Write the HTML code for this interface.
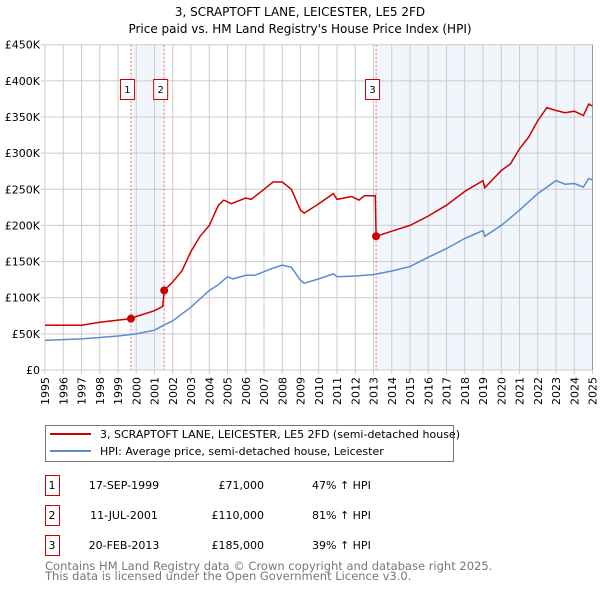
<!DOCTYPE html>
<html><head><meta charset="utf-8"><style>
body{margin:0;background:#fff;width:600px;height:590px;overflow:hidden;font-family:"DejaVu Sans","Liberation Sans",sans-serif}
svg text{font-family:"DejaVu Sans","Liberation Sans",sans-serif}
</style></head><body>
<svg id="chart" width="600" height="590" xmlns="http://www.w3.org/2000/svg">
<text x="300" y="16" text-anchor="middle" font-size="12">3, SCRAPTOFT LANE, LEICESTER, LE5 2FD</text>
<text x="300" y="33" text-anchor="middle" font-size="12">Price paid vs. HM Land Registry's House Price Index (HPI)</text>
<g id="plot"></g>
<g>
<rect x="45.5" y="425.5" width="408" height="36" fill="#fff" stroke="#777"/>
<line x1="50" y1="434" x2="91" y2="434" stroke="#cc0000" stroke-width="2"/>
<text x="100" y="438" font-size="11">3, SCRAPTOFT LANE, LEICESTER, LE5 2FD (semi-detached house)</text>
<line x1="50" y1="451" x2="91" y2="451" stroke="#5b8ccf" stroke-width="2"/>
<text x="100" y="455" font-size="11">HPI: Average price, semi-detached house, Leicester</text>
</g>
<g id="table"></g>
<text x="45" y="570" font-size="11.5" fill="#777">Contains HM Land Registry data © Crown copyright and database right 2025.</text>
<text x="45" y="580" font-size="11.5" fill="#777">This data is licensed under the Open Government Licence v3.0.</text>
</svg>
<script>
const hpiYears=[1995,1996,1997,1998,1999,2000,2001,2001.5,2002,2003,2004,2004.5,2005,2005.3,2006,2006.5,2007,2007.5,2008,2008.5,2009,2009.2,2010,2010.8,2011,2012,2013,2014,2015,2016,2017,2018,2019,2019.1,2020,2021,2022,2023,2023.5,2024,2024.5,2024.8,2025];
const hpiValues=[41,42,43,45,47,50,55,62,68,87,110,118,129,126,131,131,136,141,145,142,124,120,126,133,129,130,132,137,143,156,168,182,193,185,200,221,244,262,257,258,253,265,263];
const redYears=[1995,1996,1997,1998,1999,1999.71,2000,2001,2001.45,2001.53,2002,2002.5,2003,2003.5,2004,2004.5,2004.8,2005.2,2006,2006.3,2007,2007.5,2008,2008.5,2009,2009.2,2010,2010.8,2011,2011.8,2012.2,2012.5,2013.1,2013.14,2014,2015,2016,2017,2018,2019,2019.1,2020,2020.5,2021,2021.5,2022,2022.5,2023,2023.5,2024,2024.5,2024.8,2025];
const redValues=[62,62,62,66,69,71,74,82,88,110,122,137,164,185,200,228,235,230,238,236,250,260,260,250,221,217,230,244,236,240,235,241,241,185,192,200,213,228,247,262,252,276,285,306,322,345,363,359,356,358,352,368,365];
const saleYears=[1999.71,2001.53,2013.14];
const saleValues=[71,110,185];
const saleLabels=["1","2","3"];
const saleDates=["17-SEP-1999","11-JUL-2001","20-FEB-2013"];
const salePrices=["£71,000","£110,000","£185,000"];
const salePct=["47% ↑ HPI","81% ↑ HPI","39% ↑ HPI"];
const yTicks=[0,50,100,150,200,250,300,350,400,450];
const yTickLabels=["£0","£50K","£100K","£150K","£200K","£250K","£300K","£350K","£400K","£450K"];
const xTicks=[];for(let y=1995;y<=2025;y++)xTicks.push(y);

const NS="http://www.w3.org/2000/svg";
const X0=45,X1=592.5,Y0=370,Y1=44.7;
const xs=y=>X0+(y-1995)/30*(X1-X0);
const ys=v=>Y0-v/450*(Y0-Y1);
const plot=document.getElementById('plot');
function mk(tag,attrs,parent){const e=document.createElementNS(NS,tag);for(const k in attrs)e.setAttribute(k,attrs[k]);(parent||plot).appendChild(e);return e;}

let r=mk('rect',{x:X0,y:Y1,width:X1-X0,height:Y0-Y1,fill:'#fff'});


r=mk('rect',{x:xs(saleYears[0]),y:Y1,width:xs(saleYears[1])-xs(saleYears[0]),height:Y0-Y1,fill:'#eef2fb',opacity:0.8});


r=mk('rect',{x:xs(saleYears[2]),y:Y1,width:X1-xs(saleYears[2]),height:Y0-Y1,fill:'#eef2fb',opacity:0.8});



xTicks.forEach(t=>{
  const l=mk('line',{x1:xs(t),x2:xs(t),y1:Y1,y2:Y0+4,stroke:'#ccc'});
  
  
  const tx=mk('text',{x:0,y:0,'font-size':11,'text-anchor':'end',transform:`translate(${xs(t)+4},${Y0+7}) rotate(-90)`});
  tx.textContent=t;
  
  
});
yTicks.forEach((t,i)=>{
  const l=mk('line',{x1:X0-4,x2:X1,y1:ys(t),y2:ys(t),stroke:'#ccc'});
  
  
  const tx=mk('text',{x:X0-5,y:ys(t)+4,'font-size':11,'text-anchor':'end'});
  tx.textContent=yTickLabels[i];
  
  
});
let bd=mk('line',{x1:X1,x2:X1,y1:Y1,y2:Y0,stroke:'#999'});


saleYears.forEach((s,i)=>{
  const l=mk('line',{x1:xs(s),x2:xs(s),y1:Y1,y2:Y0,stroke:'#ff6666','stroke-dasharray':'2,2'});
  
  
  const bx=mk('rect',{x:xs(s)-10.5,y:79.5,width:14,height:20,fill:'#fff',stroke:'#cc0000'});
  
  
  const tx=mk('text',{x:xs(s)-3.5,y:93,'font-size':10,'text-anchor':'middle'});
  tx.textContent=saleLabels[i];
  
  
});
const pts=(a,b)=>a.map((y,i)=>xs(y).toFixed(1)+','+ys(b[i]).toFixed(1)).join(' ');
let p=mk('polyline',{points:pts(hpiYears,hpiValues),fill:'none',stroke:'#5b8ccf','stroke-width':1.5});


p=mk('polyline',{points:pts(redYears,redValues),fill:'none',stroke:'#cc0000','stroke-width':1.5});


saleYears.forEach((s,i)=>{
  const c=mk('circle',{cx:xs(s),cy:ys(saleValues[i]),r:4,fill:'#cc0000'});
  
  
});
const tb=document.getElementById('table');
saleLabels.forEach((lab,i)=>{
  const yy=475+i*30;
  const b=mk('rect',{x:45.5,y:yy+0.5,width:14,height:20,fill:'#fff',stroke:'#cc0000'},tb);
  
  
  const cells=[[52,'middle',lab],[124,'middle',saleDates[i]],[264,'end',salePrices[i]],[312,'start',salePct[i]]];
  cells.forEach(c=>{
    const t=mk('text',{x:c[0],y:yy+14,'font-size':11,'text-anchor':c[1]},tb);
    t.textContent=c[2];
    
    
  });
});
</script>
</body></html>
